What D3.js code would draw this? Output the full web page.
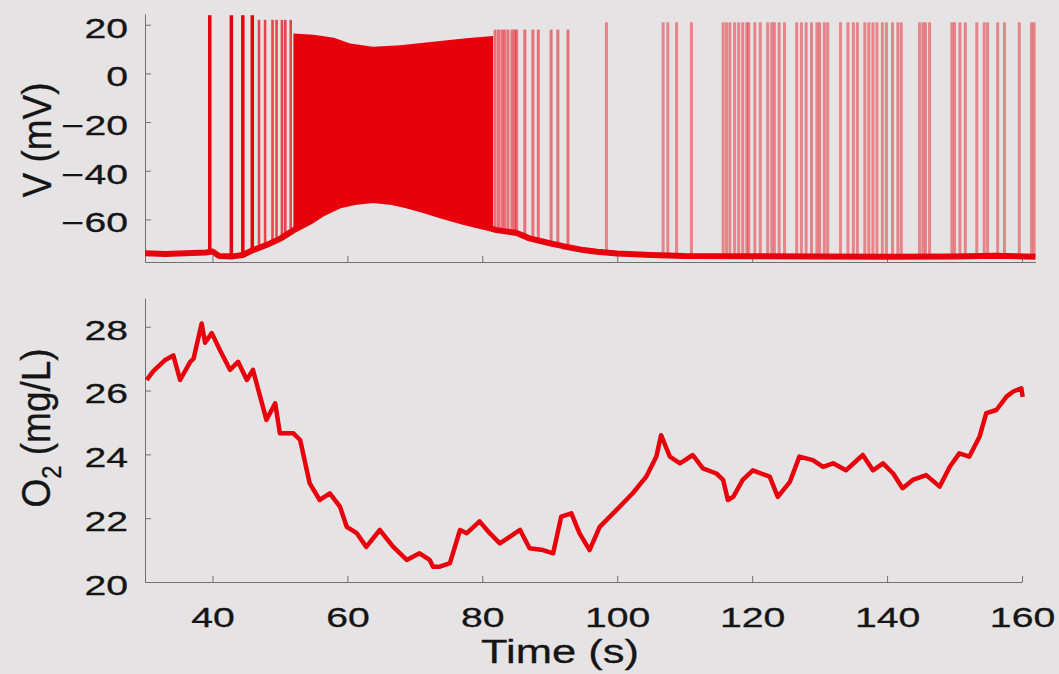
<!DOCTYPE html>
<html>
<head>
<meta charset="utf-8">
<title>Membrane potential and O2 vs time</title>
<script src="https://d3js.org/d3.v7.min.js"></script>
<style>
  body { margin: 0; background: #e6e3e5; }
  svg { display: block; }
  text { font-family: "Liberation Sans", Arial, Helvetica, sans-serif; fill: #151515; stroke: #151515; stroke-width: 0.3; }
</style>
</head>
<body>
<div id="chart"></div>
<script>
var width = 1059, height = 674;
var red = "#e8000c";

// tick labels
var timeTicks = [40, 60, 80, 100, 120, 140, 160];
var vTicks = [-60, -40, -20, 0, 20];
var o2Ticks = [20, 22, 24, 26, 28];

// potential between spikes (s, mV)
var restTime = [30, 33, 36, 39, 40, 41, 43, 44.5, 46, 48, 50, 52, 54.4, 56.4, 58.9, 61.4, 63.8, 66.3, 68.8, 71.2, 73.7, 77.2, 80.2, 82.1, 85.1, 87, 90, 92, 95, 97, 100, 105, 110, 120, 130, 140, 150, 156, 162];
var restV = [-73.9, -74.2, -73.9, -73.6, -73.2, -75, -75.2, -74.6, -72.6, -70.5, -68, -64.5, -61, -57.5, -54.2, -52.7, -52, -52.7, -54.2, -56.1, -58.2, -61, -63, -64.4, -65.6, -67.8, -69.8, -71, -72.6, -73.3, -74, -74.6, -75, -75.1, -75.2, -75.3, -75.2, -74.9, -75.3];

// upper edge of the dense burst (s, mV)
var burstTime = [52, 55, 58, 60.4, 63.8, 67.8, 72.7, 77.6, 81.6];
var burstTop = [16.4, 15.9, 14.6, 12.3, 10.9, 11.6, 13, 14.4, 15.4];

// spike times (s)
var firstSpikes = [39.6, 42.8, 44.5, 45.9];              // peak ~24 mV
var rampSpikes = [46.9, 47.8, 48.9, 49.5, 50.3, 50.8, 51.6]; // peak ~22 mV
var tailSpikes = [81.9, 82.4, 82.9, 83.3, 83.8, 84.4, 84.8, 85.1, 86.3, 87.5, 88.3, 90.2, 91.2, 92.7]; // peak ~18 mV
var lateSpikes = [98.4, 106.8, 107.5, 108.8, 111.0, 115.7, 116.2, 116.7, 117.4, 118.0, 118.6, 119.2, 119.5,
  120.4, 121.2, 122.3, 122.9, 123.3, 124.0, 124.8, 126.6, 127.3, 128.0, 128.8, 129.6, 130.0, 130.7, 131.2,
  133.1, 134.2, 135.0, 135.6, 136.7, 137.3, 137.9, 138.5, 139.3, 139.9, 140.8, 141.6, 142.1,
  144.8, 145.3, 145.7, 146.3, 149.6, 150.0, 150.8, 151.6, 153.3, 154.4, 154.9, 156.4, 157.4, 159.6, 161.4, 161.8]; // peak ~21 mV

// O2 trace (s, mg/L)
var o2Time = [30.25, 31.2, 33, 34.2, 35.2, 36.7, 37.2, 38.4, 38.9, 39.9, 41.1, 42.6, 43.8, 45.1, 46.0, 48.0, 49.3, 50, 52, 53,
  54.4, 55.9, 57.4, 58.9, 59.9, 61.4, 62.8, 64.8, 66.8, 68.8, 70.7, 72.2, 72.7, 73.7, 75.2, 76.7, 77.7, 79.6, 81.1, 82.6,
  84.1, 85.6, 87.0, 89.0, 90.5, 91.7, 93.2, 94.4, 95.9, 97.4, 99.9, 102.3, 104.3, 105.8, 106.5, 107.8, 109.3, 111.2, 112.7, 114.7,
  115.7, 116.4, 117.2, 118.6, 120.1, 122.6, 123.8, 125.6, 127.0, 129.0, 130.5, 132, 133.9, 136.4, 137.9, 139.4, 140.9, 142.3, 143.8, 145.8,
  147.8, 149.3, 150.7, 152.2, 153.7, 154.7, 156.2, 157.7, 158.7, 159.9, 160.1];
var o2Value = [26.33, 26.6, 26.96, 27.1, 26.33, 26.9, 27.0, 28.1, 27.5, 27.8, 27.27, 26.65, 26.9, 26.33, 26.65, 25.08, 25.6, 24.66, 24.66, 24.45,
  23.1, 22.57, 22.78, 22.36, 21.73, 21.53, 21.1, 21.63, 21.1, 20.69, 20.9, 20.69, 20.48, 20.48, 20.59, 21.63, 21.53, 21.9, 21.53, 21.21,
  21.42, 21.63, 21.06, 21.0, 20.9, 22.05, 22.15, 21.53, 21.0, 21.73, 22.26, 22.78, 23.3, 23.93, 24.6, 23.93, 23.72, 23.98, 23.56, 23.4,
  23.2, 22.57, 22.67, 23.2, 23.5, 23.3, 22.67, 23.14, 23.93, 23.82, 23.61, 23.72, 23.5, 23.98, 23.5, 23.72, 23.4, 22.94, 23.2, 23.35,
  22.99, 23.61, 24.03, 23.93, 24.55, 25.29, 25.39, 25.81, 25.97, 26.07, 25.8];

var svg = d3.select("#chart").append("svg").attr("width", width).attr("height", height);

var x = d3.scaleLinear().domain([30, 160]).range([145, 1022]);
var xTop = x.copy().domain([30, 162]).range([145, x(162)]);
var yV = d3.scaleLinear().domain([-77.5, 24.4]).range([262, 14]);
var yO2 = d3.scaleLinear().domain([20, 28.9]).range([582, 298]);
var restAt = d3.scaleLinear().domain(restTime).range(restV);

// stretch tick labels sideways like the source figure
function styleAxis(g, size) {
  g.attr("font-size", size).attr("font-family", null);
  g.select(".domain").attr("stroke", "#707070");
  g.selectAll(".tick line").attr("stroke", "#707070");
  g.selectAll(".tick text").each(function() {
    var t = d3.select(this);
    var tx = +t.attr("x") || 0, ty = +t.attr("y") || 0;
    t.attr("x", 0).attr("y", 0).attr("fill", "#151515")
      .attr("transform", "translate(" + tx + "," + ty + ") scale(1.45,1)");
  });
}

// ---- top panel: V (mV)
svg.append("g").attr("transform", "translate(0," + yV.range()[0] + ")")
  .call(d3.axisBottom(xTop).tickValues(timeTicks).tickSizeInner(-6).tickSizeOuter(0).tickFormat(""))
  .call(styleAxis, 27);
var gl = svg.append("g").attr("transform", "translate(" + x.range()[0] + ",0)")
  .call(d3.axisLeft(yV).tickValues(vTicks).tickSizeInner(-6).tickSizeOuter(0).tickPadding(17))
  .call(styleAxis, 27);
gl.selectAll(".tick text").attr("dy", "0.46em");

var pts = burstTime.map(function(t, i) { return [t, burstTop[i]]; });
svg.append("path").datum(pts)
  .attr("fill", red)
  .attr("d", d3.area()
    .x(function(d) { return xTop(d[0]); })
    .y0(function(d) { return yV(restAt(d[0])); })
    .y1(function(d) { return yV(d[1]); }));

function spikes(times, peak, w, op) {
  svg.append("g").selectAll("line").data(times).join("line")
    .attr("x1", function(d) { return xTop(d); }).attr("x2", function(d) { return xTop(d); })
    .attr("y1", function(d) { return yV(restAt(d)); })
    .attr("y2", yV(peak))
    .attr("stroke", red).attr("stroke-width", w).attr("stroke-opacity", op);
}
spikes(lateSpikes, 21, 3, 0.42);
spikes(tailSpikes, 18, 3, 0.5);
spikes(rampSpikes, 22, 2.6, 0.7);
spikes(firstSpikes, 23.9, 3.5, 1);

var restPts = restTime.map(function(t, i) { return [t, restV[i]]; });
svg.append("path").datum(restPts)
  .attr("fill", "none").attr("stroke", red).attr("stroke-width", 6).attr("stroke-linejoin", "round")
  .attr("d", d3.line().x(function(d) { return xTop(d[0]); }).y(function(d) { return yV(d[1]); }));

// ---- bottom panel: O2 (mg/L)
svg.append("g").attr("transform", "translate(0," + yO2.range()[0] + ")")
  .call(d3.axisBottom(x).tickValues(timeTicks).tickSizeInner(-6).tickSizeOuter(0).tickPadding(26))
  .call(styleAxis, 27);
var gl2 = svg.append("g").attr("transform", "translate(" + x.range()[0] + ",0)")
  .call(d3.axisLeft(yO2).tickValues(o2Ticks).tickSizeInner(-6).tickSizeOuter(0).tickPadding(17))
  .call(styleAxis, 27);
gl2.selectAll(".tick text").attr("dy", "0.46em");

var o2Pts = o2Time.map(function(t, i) { return [t, o2Value[i]]; });
svg.append("path").datum(o2Pts)
  .attr("fill", "none").attr("stroke", red).attr("stroke-width", 4.5).attr("stroke-linejoin", "round")
  .attr("d", d3.line().x(function(d) { return x(d[0]); }).y(function(d) { return yO2(d[1]); }));

// ---- axis titles
svg.append("text").attr("transform", "translate(560,663) scale(1.28,1)")
  .attr("text-anchor", "middle").attr("font-size", 34).text("Time (s)");

svg.append("text").attr("transform", "translate(51,140) rotate(-90) scale(1,1.12)")
  .attr("text-anchor", "middle").attr("font-size", 37).text("V (mV)");

var o2Label = svg.append("text").attr("transform", "translate(50,428) rotate(-90) scale(1,1.12)")
  .attr("text-anchor", "middle").attr("font-size", 37);
o2Label.append("tspan").text("O");
o2Label.append("tspan").attr("font-size", 24).attr("dy", 10).text("2");
o2Label.append("tspan").attr("dy", -10).text(" (mg/L)");
</script>
</body>
</html>
